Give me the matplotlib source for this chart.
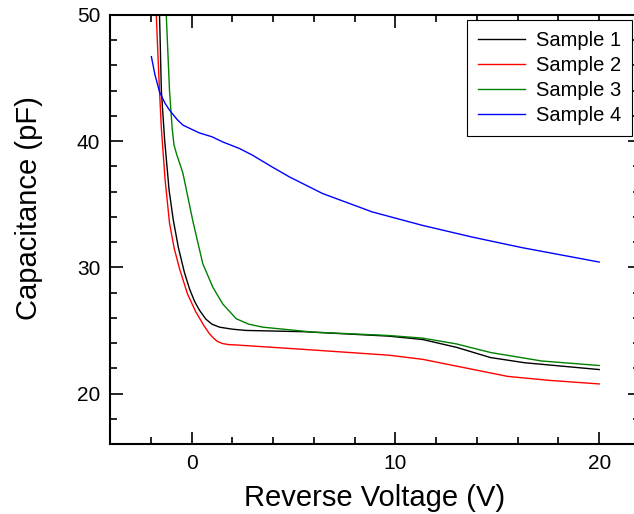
import numpy as np
import matplotlib
matplotlib.use("Agg")
import matplotlib.pyplot as plt
from matplotlib.ticker import MultipleLocator

plt.rcParams['font.family'] = ['Liberation Sans', 'DejaVu Sans']

# Sample 1 (black)
s1_v = [-1.57, -1.48, -1.32, -1.1, -0.9, -0.65, -0.35, -0.1, 0.15, 0.39, 0.7, 1.0,
        1.37, 2.0, 2.68, 5.5, 9.67, 11.34, 13.0, 14.67, 16.34, 20.0]
s1_c = [50.0, 44.0, 40.1, 36.1, 33.8, 31.6, 29.6, 28.3, 27.3, 26.6, 25.9, 25.5,
        25.26, 25.1, 25.0, 24.9, 24.55, 24.28, 23.66, 22.85, 22.44, 21.9]

# Sample 2 (red)
s2_v = [-1.73, -1.6, -1.48, -1.3, -1.08, -0.85, -0.59, -0.2, 0.2, 0.6, 0.85, 1.04,
        1.25, 1.5, 1.8, 2.17, 5.5, 9.67, 11.34, 13.84, 15.5, 17.5, 20.0]
s2_c = [50.0, 45.0, 41.0, 37.0, 33.5, 31.5, 29.9, 27.9, 26.5, 25.4, 24.8, 24.45,
        24.15, 23.97, 23.88, 23.85, 23.5, 23.04, 22.71, 21.9, 21.36, 21.05, 20.76]

# Sample 3 (green)
s3_v = [-1.24, -1.16, -1.08, -0.95, -0.86, -0.72, -0.55, -0.42, 0.06, 0.55, 1.04, 1.53,
        2.19, 2.8, 3.49, 5.94, 9.67, 11.34, 13.0, 14.67, 17.17, 20.0]
s3_c = [50.0, 47.0, 44.0, 41.0, 39.7, 38.9, 38.1, 37.44, 33.7, 30.3, 28.44, 27.1,
        25.93, 25.5, 25.26, 24.87, 24.6, 24.39, 23.93, 23.25, 22.58, 22.22]

# Sample 4 (blue)
s4_v = [-1.97, -1.8, -1.57, -1.3, -1.08, -0.7, -0.42, 0.39, 1.0, 1.53, 2.35, 2.99,
        3.96, 4.8, 6.43, 8.87, 11.32, 13.77, 16.22, 20.0]
s4_c = [46.7, 45.3, 43.9, 43.0, 42.46, 41.7, 41.27, 40.65, 40.35, 39.94, 39.42, 38.89,
        37.95, 37.17, 35.85, 34.39, 33.33, 32.4, 31.56, 30.42]

labels = ['Sample 1', 'Sample 2', 'Sample 3', 'Sample 4']
colors = ['black', 'red', 'green', 'blue']

fig = plt.figure(figsize=(6.34, 5.14), dpi=100)
ax = fig.add_axes([110 / 634, 70 / 514, 530 / 634, 429 / 514])

for v, c, lab, col in zip([s1_v, s2_v, s3_v, s4_v], [s1_c, s2_c, s3_c, s4_c], labels, colors):
    ax.plot(v, c, color=col, lw=1.0, label=lab)

ax.set_xlim(-4, 22)
ax.set_ylim(16, 50)
ax.set_xticks([0, 10, 20])
ax.set_yticks([20, 30, 40, 50])
ax.xaxis.set_minor_locator(MultipleLocator(2))
ax.yaxis.set_minor_locator(MultipleLocator(2))
ax.tick_params(which='both', direction='in', top=True, right=True, width=1.2)
ax.tick_params(which='major', length=9, labelsize=15, pad=7)
ax.tick_params(which='minor', length=5)
for sp in ax.spines.values():
    sp.set_linewidth(1.5)

ax.set_xlabel('Reverse Voltage (V)', fontsize=21, labelpad=8)
ax.set_ylabel('Capacitance (pF)', fontsize=21)
ax.yaxis.set_label_coords(-0.127, 0.55)

leg = ax.legend(loc='upper right', bbox_to_anchor=(632 / 634, 494 / 514),
                bbox_transform=fig.transFigure, fontsize=14.5, frameon=True,
                fancybox=False, edgecolor='black', framealpha=1,
                handlelength=2.3, handletextpad=0.55, labelspacing=0.3,
                borderpad=0.55, borderaxespad=0)
leg.get_frame().set_linewidth(0.8)

fig.savefig('out.png', dpi=100)
